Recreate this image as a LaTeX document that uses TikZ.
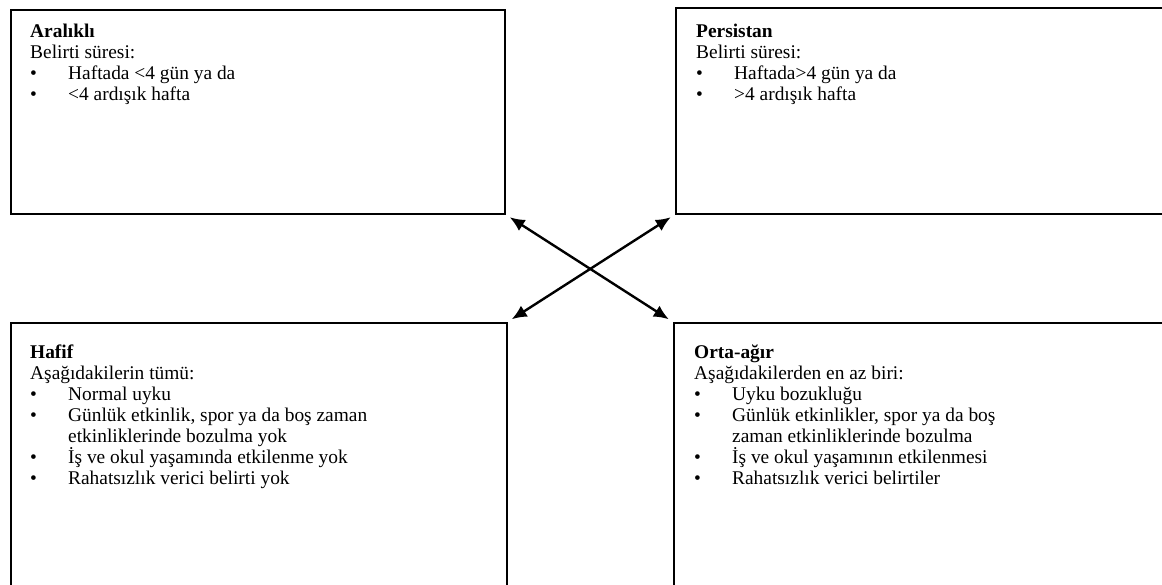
\documentclass[tikz,border=0pt]{standalone}
\usepackage{fontspec}
\setmainfont{Liberation Serif}
\usetikzlibrary{arrows.meta}
\newcommand{\bul}{\makebox[38pt][l]{•}}
\newcommand{\ind}{\hspace*{38pt}}
\begin{document}
\begin{tikzpicture}[x=1pt,y=-1pt,
  boxstyle/.style={draw=black,line width=1.5pt,rectangle,inner sep=0pt,anchor=north west},
  txtstyle/.style={anchor=base west,inner sep=0pt,align=left,font=\fontsize{19.4}{21}\selectfont},
  arrstyle/.style={line width=2.4pt,{Latex[length=15pt,width=13pt]}-{Latex[length=15pt,width=13pt]},shorten <=5pt,shorten >=5pt}]
\useasboundingbox (0,0) rectangle (1162,584);
\clip (0,0) rectangle (1162,584);
\node[boxstyle,minimum width=494pt,minimum height=204pt] (tl) at (10,9) {};
\node[boxstyle,minimum width=520pt,minimum height=206pt] (tr) at (675,7) {};
\node[boxstyle,minimum width=496pt,minimum height=300pt] (bl) at (10,322) {};
\node[boxstyle,minimum width=520pt,minimum height=300pt] (br) at (673,322) {};
\node[txtstyle] (tltext) at (30,100) {\textbf{Aralıklı}\\Belirti süresi:\\\bul Haftada <4 gün ya da\\\bul <4 ardışık hafta};
\node[txtstyle] (trtext) at (696,100) {\textbf{Persistan}\\Belirti süresi:\\\bul Haftada>4 gün ya da\\\bul >4 ardışık hafta};
\node[txtstyle] (bltext) at (30,484) {\textbf{Hafif}\\Aşağıdakilerin tümü:\\\bul Normal uyku\\\bul Günlük etkinlik, spor ya da boş zaman\\\ind etkinliklerinde bozulma yok\\\bul İş ve okul yaşamında etkilenme yok\\\bul Rahatsızlık verici belirti yok};
\node[txtstyle] (brtext) at (694,484) {\textbf{Orta-ağır}\\Aşağıdakilerden en az biri:\\\bul Uyku bozukluğu\\\bul Günlük etkinlikler, spor ya da boş\\\ind zaman etkinliklerinde bozulma\\\bul İş ve okul yaşamının etkilenmesi\\\bul Rahatsızlık verici belirtiler};
\draw[arrstyle] (tl.south east) -- (br.north west);
\draw[arrstyle] (tr.south west) -- (bl.north east);
\end{tikzpicture}
\end{document}
